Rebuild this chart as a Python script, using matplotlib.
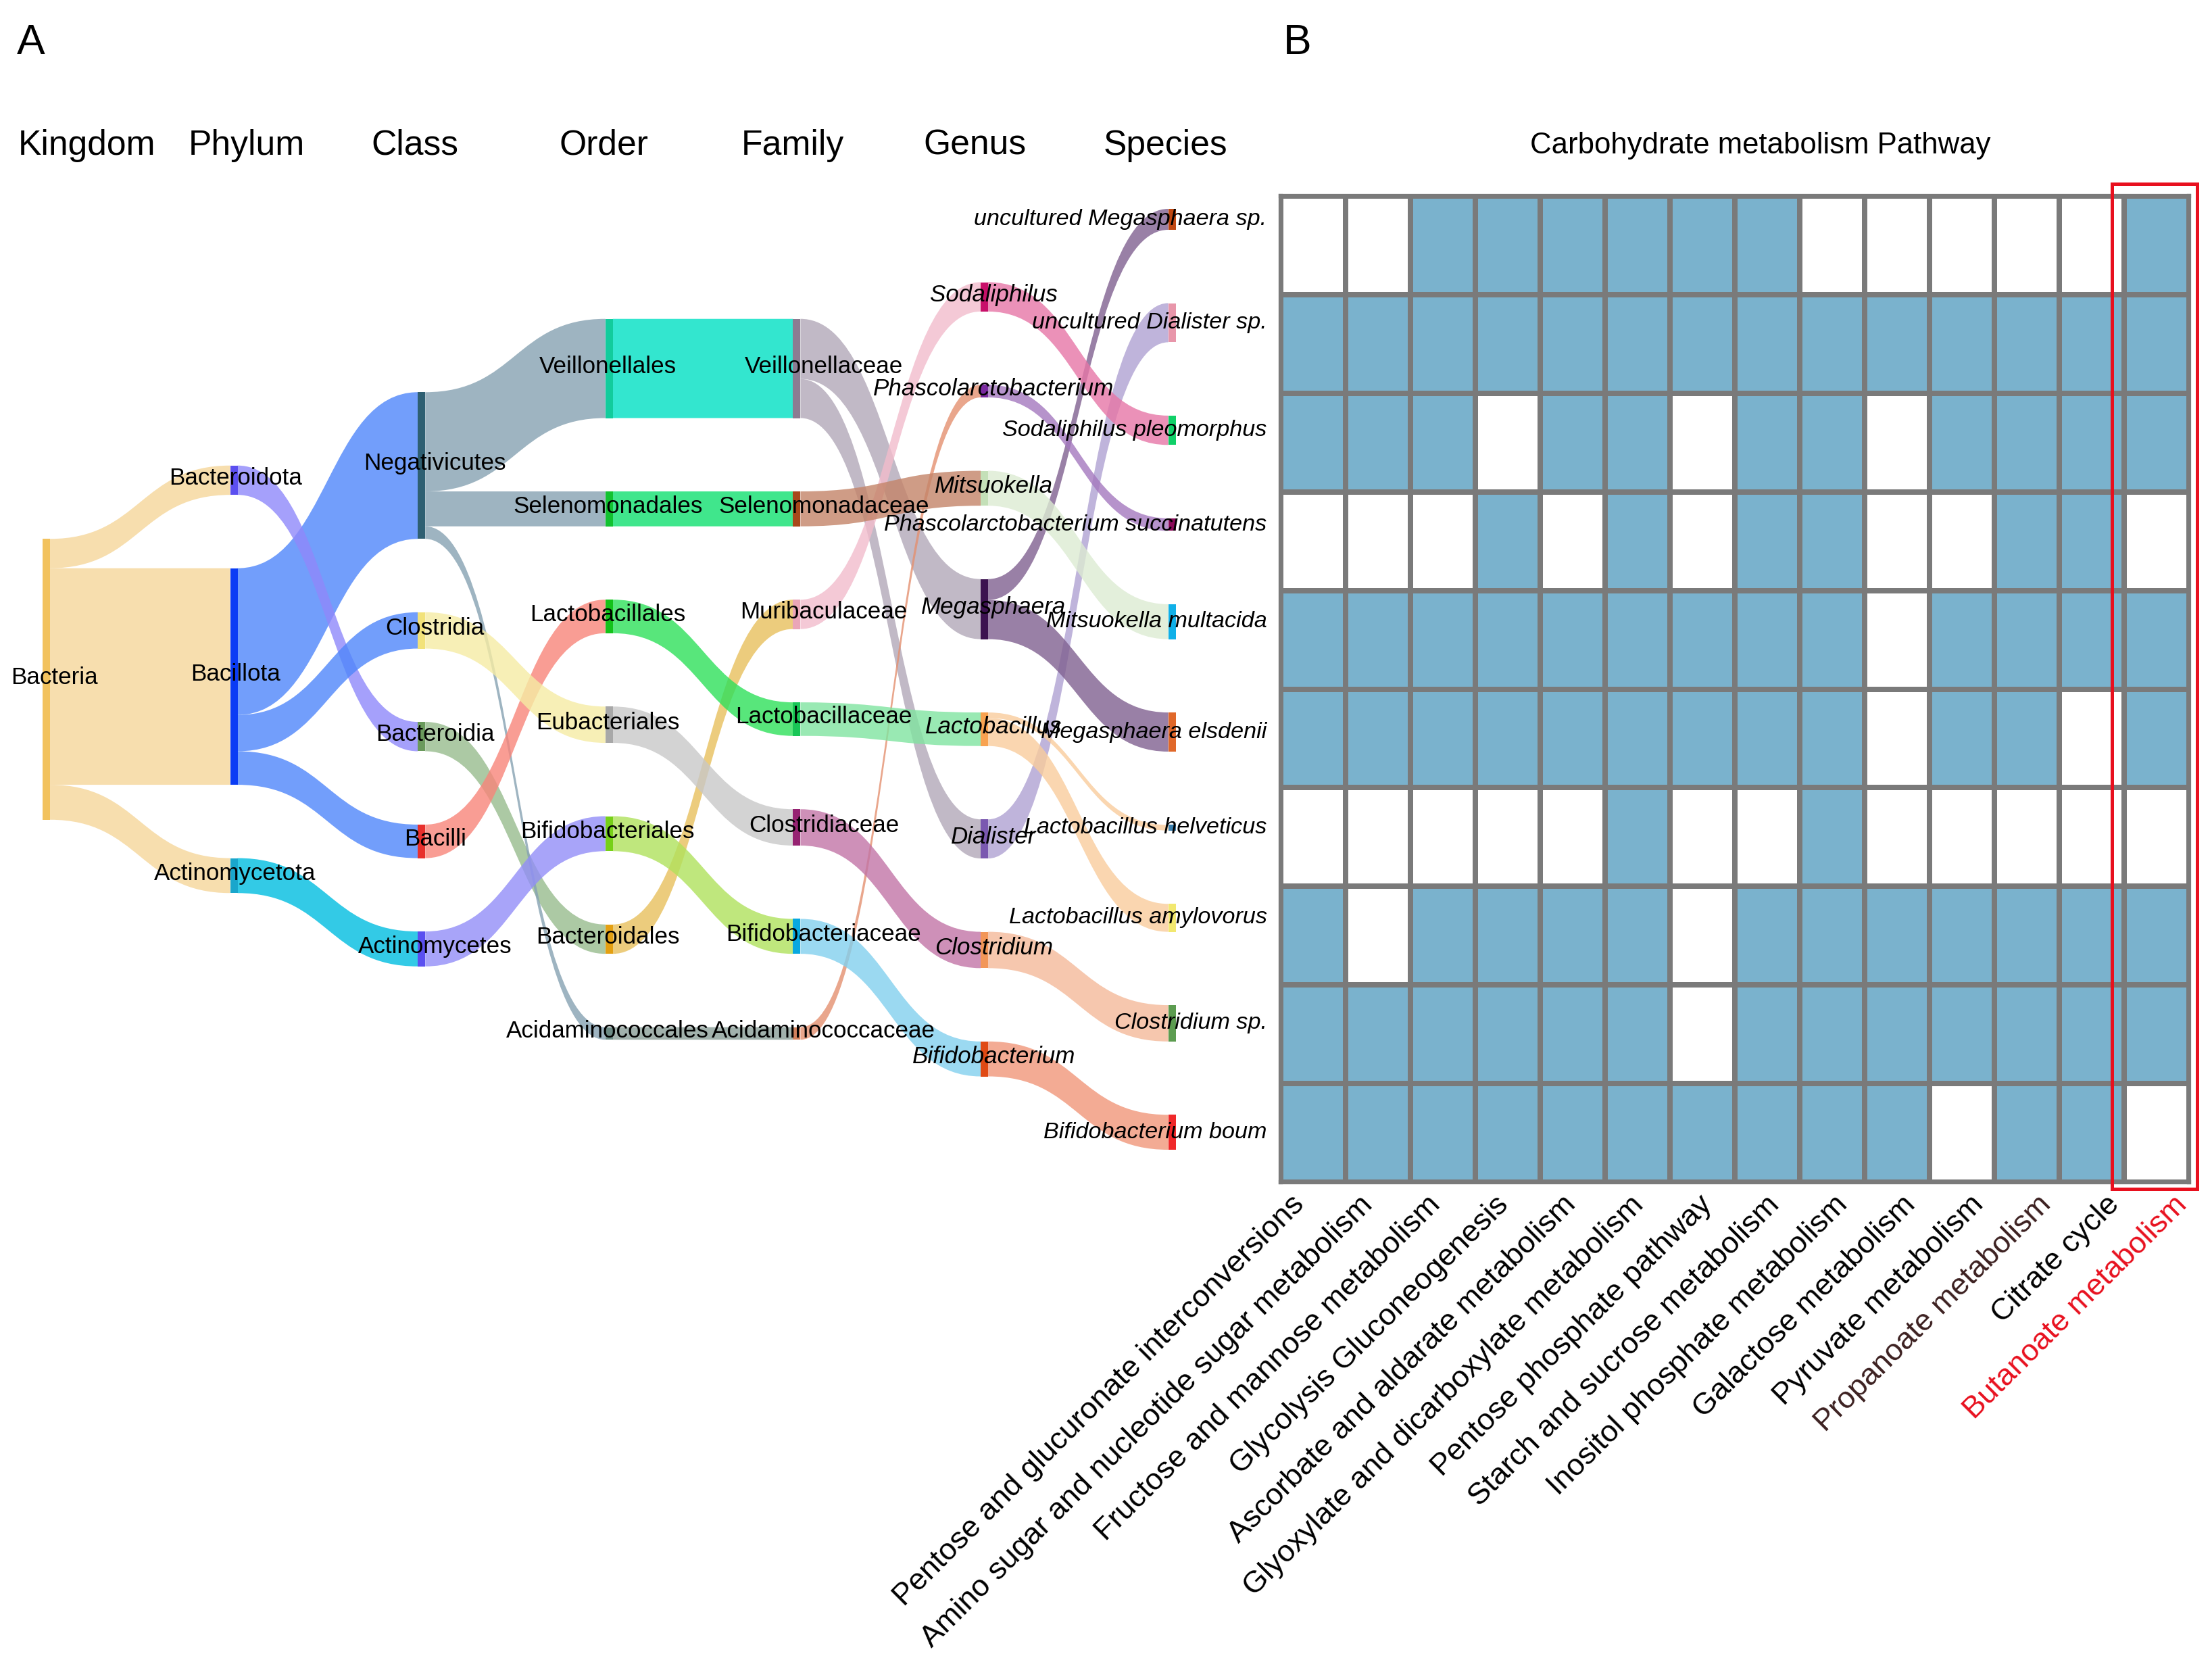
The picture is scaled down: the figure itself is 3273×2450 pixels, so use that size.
import matplotlib.pyplot as plt
from matplotlib.path import Path
from matplotlib.patches import PathPatch, Rectangle
from matplotlib.colors import ListedColormap
from collections import defaultdict
import numpy as np

plt.rcParams['font.family'] = ['Liberation Sans', 'DejaVu Sans']

# ---------------- Panel A: taxonomy sankey ----------------
ranks = ['Kingdom', 'Phylum', 'Class', 'Order', 'Family', 'Genus', 'Species']

kingdom = ['Bacteria']
phylum = ['Bacteroidota', 'Bacillota', 'Actinomycetota']
klass = ['Negativicutes', 'Clostridia', 'Bacteroidia', 'Bacilli', 'Actinomycetes']
order = ['Veillonellales', 'Selenomonadales', 'Lactobacillales', 'Eubacteriales',
         'Bifidobacteriales', 'Bacteroidales', 'Acidaminococcales']
family = ['Veillonellaceae', 'Selenomonadaceae', 'Muribaculaceae', 'Lactobacillaceae',
          'Clostridiaceae', 'Bifidobacteriaceae', 'Acidaminococcaceae']
genus = ['Sodaliphilus', 'Phascolarctobacterium', 'Mitsuokella', 'Megasphaera',
         'Lactobacillus', 'Dialister', 'Clostridium', 'Bifidobacterium']
species = ['uncultured Megasphaera sp.', 'uncultured Dialister sp.', 'Sodaliphilus pleomorphus',
           'Phascolarctobacterium succinatutens', 'Mitsuokella multacida', 'Megasphaera elsdenii',
           'Lactobacillus helveticus', 'Lactobacillus amylovorus', 'Clostridium sp.',
           'Bifidobacterium boum']

# relative weight of each species (band thickness)
species_weight = [15, 28, 21, 9, 25, 28, 4, 20, 26, 25]

# lineage of each species (kingdom ... genus)
lineage = [
    ('Bacteria', 'Bacillota', 'Negativicutes', 'Veillonellales', 'Veillonellaceae', 'Megasphaera'),
    ('Bacteria', 'Bacillota', 'Negativicutes', 'Veillonellales', 'Veillonellaceae', 'Dialister'),
    ('Bacteria', 'Bacteroidota', 'Bacteroidia', 'Bacteroidales', 'Muribaculaceae', 'Sodaliphilus'),
    ('Bacteria', 'Bacillota', 'Negativicutes', 'Acidaminococcales', 'Acidaminococcaceae', 'Phascolarctobacterium'),
    ('Bacteria', 'Bacillota', 'Negativicutes', 'Selenomonadales', 'Selenomonadaceae', 'Mitsuokella'),
    ('Bacteria', 'Bacillota', 'Negativicutes', 'Veillonellales', 'Veillonellaceae', 'Megasphaera'),
    ('Bacteria', 'Bacillota', 'Bacilli', 'Lactobacillales', 'Lactobacillaceae', 'Lactobacillus'),
    ('Bacteria', 'Bacillota', 'Bacilli', 'Lactobacillales', 'Lactobacillaceae', 'Lactobacillus'),
    ('Bacteria', 'Bacillota', 'Clostridia', 'Eubacteriales', 'Clostridiaceae', 'Clostridium'),
    ('Bacteria', 'Actinomycetota', 'Actinomycetes', 'Bifidobacteriales', 'Bifidobacteriaceae', 'Bifidobacterium'),
]

node_color = {
    'Bacteria': '#f2c25e', 'Bacteroidota': '#5b4ff0', 'Bacillota': '#0a3cf5',
    'Actinomycetota': '#1aa6cc', 'Negativicutes': '#2e5f72', 'Clostridia': '#f2e27a',
    'Bacteroidia': '#6a9a5c', 'Bacilli': '#e8302c', 'Actinomycetes': '#5a4ff0',
    'Veillonellales': '#12cc9c', 'Selenomonadales': '#12c230', 'Lactobacillales': '#14c21a',
    'Eubacteriales': '#a8a8a8', 'Bifidobacteriales': '#76d018', 'Bacteroidales': '#e4a012',
    'Acidaminococcales': '#6c8a84', 'Veillonellaceae': '#8c7c92', 'Selenomonadaceae': '#a8481a',
    'Muribaculaceae': '#eaa6b8', 'Lactobacillaceae': '#18c656', 'Clostridiaceae': '#962272',
    'Bifidobacteriaceae': '#08a8e0', 'Acidaminococcaceae': '#d0805c', 'Sodaliphilus': '#c8106a',
    'Phascolarctobacterium': '#7a2aa0', 'Mitsuokella': '#c4e0b8', 'Megasphaera': '#3c1250',
    'Lactobacillus': '#f8a250', 'Dialister': '#7a58b0', 'Clostridium': '#f29658',
    'Bifidobacterium': '#e04a14', 'uncultured Megasphaera sp.': '#c04812',
    'uncultured Dialister sp.': '#e896aa', 'Sodaliphilus pleomorphus': '#10d068',
    'Phascolarctobacterium succinatutens': '#8a0a58', 'Mitsuokella multacida': '#10b0e8',
    'Megasphaera elsdenii': '#e0682a', 'Lactobacillus helveticus': '#3a80b0',
    'Lactobacillus amylovorus': '#f2e870', 'Clostridium sp.': '#5c9c50',
    'Bifidobacterium boum': '#f0282a',
}
# colour of the bands leaving each node
flow_color = {
    'Bacteria': '#f5d69a', 'Bacteroidota': '#8f88fa', 'Bacillota': '#4f86fa',
    'Actinomycetota': '#00bde0', 'Negativicutes': '#86a2b2', 'Clostridia': '#f6eca4',
    'Bacteroidia': '#98bc8e', 'Bacilli': '#f8857a', 'Actinomycetes': '#928ef8',
    'Veillonellales': '#00e0c4', 'Selenomonadales': '#10e070', 'Lactobacillales': '#2ee05a',
    'Eubacteriales': '#c8c8c8', 'Bifidobacteriales': '#b0e25c', 'Bacteroidales': '#e8c05c',
    'Acidaminococcales': '#8a9e98', 'Veillonellaceae': '#b2a8b8', 'Selenomonadaceae': '#c48468',
    'Muribaculaceae': '#f2bccc', 'Lactobacillaceae': '#80e4a0', 'Clostridiaceae': '#c274a6',
    'Bifidobacteriaceae': '#82d0ee', 'Acidaminococcaceae': '#e49070', 'Sodaliphilus': '#e676a6',
    'Phascolarctobacterium': '#a478be', 'Mitsuokella': '#dcebd2', 'Megasphaera': '#806090',
    'Lactobacillus': '#f9cc9c', 'Dialister': '#b0a2d2', 'Clostridium': '#f4ba9a',
    'Bifidobacterium': '#f0967a',
}

# ---------------- Panel B: pathway presence ----------------
pathways = ['Pentose and glucuronate interconversions',
            'Amino sugar and nucleotide sugar metabolism',
            'Fructose and mannose metabolism', 'Glycolysis Gluconeogenesis',
            'Ascorbate and aldarate metabolism', 'Glyoxylate and dicarboxylate metabolism',
            'Pentose phosphate pathway', 'Starch and sucrose metabolism',
            'Inositol phosphate metabolism', 'Galactose metabolism', 'Pyruvate metabolism',
            'Propanoate metabolism', 'Citrate cycle', 'Butanoate metabolism']
presence = [
    [0, 0, 1, 1, 1, 1, 1, 1, 0, 0, 0, 0, 0, 1],
    [1, 1, 1, 1, 1, 1, 1, 1, 1, 1, 1, 1, 1, 1],
    [1, 1, 1, 0, 1, 1, 0, 1, 1, 0, 1, 1, 1, 1],
    [0, 0, 0, 1, 0, 1, 0, 1, 1, 0, 0, 1, 1, 0],
    [1, 1, 1, 1, 1, 1, 1, 1, 1, 0, 1, 1, 1, 1],
    [1, 1, 1, 1, 1, 1, 1, 1, 1, 0, 1, 1, 0, 1],
    [0, 0, 0, 0, 0, 1, 0, 0, 1, 0, 0, 0, 0, 0],
    [1, 0, 1, 1, 1, 1, 0, 1, 1, 1, 1, 1, 1, 1],
    [1, 1, 1, 1, 1, 1, 0, 1, 1, 1, 1, 1, 1, 1],
    [1, 1, 1, 1, 1, 1, 1, 1, 1, 1, 0, 1, 1, 0],
]

# ---------------- figure ----------------
W, H = 3273, 2450
fig = plt.figure(figsize=(W / 300, H / 300), dpi=300)
ax = fig.add_axes([0, 0, 1, 1])
ax.set_xlim(0, W)
ax.set_ylim(H, 0)
ax.axis('off')

columns = [kingdom, phylum, klass, order, family, genus, species]
full_lineage = [lin + (sp,) for lin, sp in zip(lineage, species)]

value = defaultdict(float)
links = defaultdict(float)
for lin, w in zip(full_lineage, species_weight):
    for r in range(7):
        value[lin[r]] += w
    for r in range(6):
        links[(lin[r], lin[r + 1])] += w

# layout (pixel units)
x0, dx, node_w = 63, 277.6, 11
y_mid, pad, span = 1005, 108.5, 1392
ky = min((span - (len(c) - 1) * pad) / sum(value[n] for n in c) for c in columns)

node_x, node_top = {}, {}
for r, col in enumerate(columns):
    h = sum(value[n] for n in col) * ky + (len(col) - 1) * pad
    y = y_mid - h / 2
    for n in col:
        node_x[n] = x0 + r * dx
        node_top[n] = y
        y += value[n] * ky + pad

out_off = defaultdict(float)
in_off = defaultdict(float)
src_pos, tgt_pos = {}, {}
for (s, t), v in sorted(links.items(), key=lambda kv: node_top[kv[0][1]]):
    src_pos[(s, t)] = node_top[s] + out_off[s]
    out_off[s] += v * ky
for (s, t), v in sorted(links.items(), key=lambda kv: node_top[kv[0][0]]):
    tgt_pos[(s, t)] = node_top[t] + in_off[t]
    in_off[t] += v * ky

for (s, t), v in links.items():
    xs = node_x[s] + node_w
    xe = node_x[t]
    xm = (xs + xe) / 2
    ys0 = src_pos[(s, t)]
    yt0 = tgt_pos[(s, t)]
    th = v * ky
    verts = [(xs, ys0), (xm, ys0), (xm, yt0), (xe, yt0), (xe, yt0 + th),
             (xm, yt0 + th), (xm, ys0 + th), (xs, ys0 + th), (xs, ys0)]
    codes = [Path.MOVETO, Path.CURVE4, Path.CURVE4, Path.CURVE4, Path.LINETO,
             Path.CURVE4, Path.CURVE4, Path.CURVE4, Path.CLOSEPOLY]
    ax.add_patch(PathPatch(Path(verts, codes), facecolor=flow_color[s], edgecolor='none',
                           alpha=0.8, zorder=1))

label_dx = [12, 2, 20, -2, 40, 14]
for r, col in enumerate(columns):
    for n in col:
        ax.add_patch(Rectangle((node_x[n], node_top[n]), node_w, value[n] * ky,
                               facecolor=node_color[n], edgecolor='none', zorder=2))
        yc = node_top[n] + value[n] * ky / 2
        style = 'italic' if r >= 5 else 'normal'
        if r == 6:
            ax.text(node_x[n] + 146, yc, n, ha='right', va='center', fontsize=8.2,
                    style=style, zorder=3)
        else:
            ax.text(node_x[n] + node_w / 2 + label_dx[r], yc - 3, n, ha='center',
                    va='center', fontsize=8.4, style=style, zorder=3)

header_dx = [0, 19, -10, -8, -6, -14, -10]
for r, name in enumerate(ranks):
    if r == 0:
        ax.text(27, 215, name, ha='left', va='center', fontsize=12.4)
    else:
        ax.text(node_x[columns[r][0]] + node_w / 2 + header_dx[r], 215, name, ha='center',
                va='center', fontsize=12.4)

fig.text(25 / W, 1 - 63 / H, 'A', fontsize=15, ha='left', va='center')
fig.text(1899 / W, 1 - 63 / H, 'B', fontsize=15, ha='left', va='center')

# ---------------- heatmap ----------------
hx0, hx1, hy0, hy1 = 1895, 3239, 290, 1749
axh = fig.add_axes([hx0 / W, 1 - hy1 / H, (hx1 - hx0) / W, (hy1 - hy0) / H])
cmap = ListedColormap(['white', '#7ab2cd'])
axh.pcolormesh(np.array(presence), cmap=cmap, vmin=0, vmax=1,
               edgecolors='#7a7a7a', linewidth=1.5)
axh.set_xlim(0, len(pathways))
axh.set_ylim(len(species), 0)
axh.set_yticks([])
axh.set_xticks(np.linspace(0.15, len(pathways) - 0.25, len(pathways)))
axh.set_xticklabels(pathways, rotation=45, ha='right', va='top', rotation_mode='anchor',
                    fontsize=10.8)
axh.tick_params(axis='x', length=0, pad=3)
for sp in axh.spines.values():
    sp.set_color('#7a7a7a')
    sp.set_linewidth(1.5)
labs = axh.get_xticklabels()
labs[-1].set_color('#e8101e')
labs[-3].set_color('#3b1f1f')
axh.add_patch(Rectangle((12.81, -0.12), 1.32, 10.19, fill=False, edgecolor='#e8101e',
                        linewidth=1.2, clip_on=False, zorder=5))
fig.text(2605 / W, 1 - 215 / H, 'Carbohydrate metabolism Pathway', ha='center', va='center',
         fontsize=10.5)

fig.savefig('out.png', dpi=300)
